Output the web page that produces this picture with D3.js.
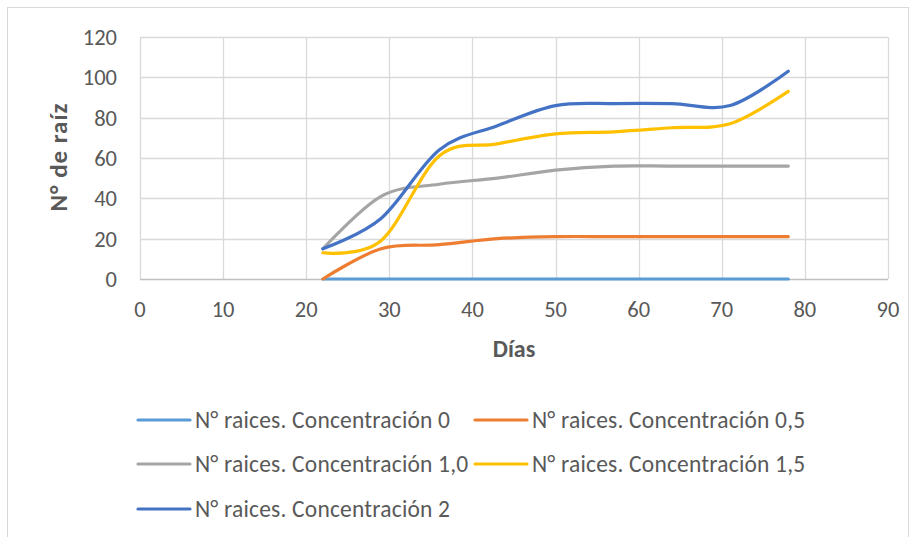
<!DOCTYPE html>
<html>
<head>
<meta charset="utf-8">
<script src="https://cdn.jsdelivr.net/npm/d3@7"></script>
<style>
  body { margin: 0; background: #fff; }
  svg text { font-family: Carlito, Calibri, Lato, sans-serif; fill: #595959; }
</style>
</head>
<body>
<div id="chart"></div>
<script>
// data
const dias = [22, 29, 36, 43, 50, 57, 64, 71, 78];
const conc0 = [0, 0, 0, 0, 0, 0, 0, 0, 0];
const conc05 = [0, 15, 17, 20, 21, 21, 21, 21, 21];
const conc10 = [15, 41, 47, 50, 54, 56, 56, 56, 56];
const conc15 = [13, 19, 61, 67, 72, 73, 75, 77, 93];
const conc2 = [15, 30, 64, 76, 86, 87, 87, 86, 103];
const seriesNames = [
  'N° raices. Concentración 0',
  'N° raices. Concentración 0,5',
  'N° raices. Concentración 1,0',
  'N° raices. Concentración 1,5',
  'N° raices. Concentración 2'
];
const seriesColors = ['#5B9BD5', '#ED7D31', '#A5A5A5', '#FFC000', '#4472C4'];
const xTicks = [0, 10, 20, 30, 40, 50, 60, 70, 80, 90];
const yTicks = [0, 20, 40, 60, 80, 100, 120];

const W = 917, H = 537;
const svg = d3.select('#chart').append('svg')
  .attr('width', W).attr('height', H);

// chart frame
svg.append('rect')
  .attr('x', 7.5).attr('y', 7.5)
  .attr('width', 901).attr('height', 540)
  .attr('fill', 'none').attr('stroke', '#D9D9D9');

const x = d3.scaleLinear().domain([0, 90]).range([140, 888]);
const y = d3.scaleLinear().domain([0, 120]).range([279, 37]);

const grid = svg.append('g');
grid.selectAll('.hg').data(yTicks.filter(d => d > 0)).enter().append('line')
  .attr('x1', x(0)).attr('x2', x(90))
  .attr('y1', d => Math.round(y(d)) + 0.5).attr('y2', d => Math.round(y(d)) + 0.5)
  .attr('stroke', '#D9D9D9').attr('stroke-width', 1.3);
grid.selectAll('.vg').data(xTicks).enter().append('line')
  .attr('y1', y(0)).attr('y2', y(120))
  .attr('x1', d => Math.round(x(d)) + 0.5).attr('x2', d => Math.round(x(d)) + 0.5)
  .attr('stroke', '#D9D9D9').attr('stroke-width', 1.3);
// bottom axis line
svg.append('line')
  .attr('x1', x(0)).attr('x2', x(90))
  .attr('y1', Math.round(y(0)) + 0.5).attr('y2', Math.round(y(0)) + 0.5)
  .attr('stroke', '#BFBFBF').attr('stroke-width', 1.3);

// tick labels
svg.selectAll('.yl').data(yTicks).enter().append('text')
  .attr('x', 117).attr('y', d => y(d))
  .attr('dy', '0.35em')
  .attr('text-anchor', 'end')
  .attr('font-size', 22.5)
  .text(d => d);
svg.selectAll('.xl').data(xTicks).enter().append('text')
  .attr('x', d => x(d)).attr('y', 309)
  .attr('dy', '0.35em')
  .attr('text-anchor', 'middle')
  .attr('font-size', 22.5)
  .text(d => d);

// axis titles
svg.append('text')
  .attr('transform', 'translate(58,157) rotate(-90)')
  .attr('text-anchor', 'middle').attr('dy', '0.35em')
  .attr('font-size', 25).attr('font-weight', 'bold')
  .attr('letter-spacing', 1)
  .text('N° de raíz');
svg.append('text')
  .attr('x', 514).attr('y', 349)
  .attr('text-anchor', 'middle').attr('dy', '0.35em')
  .attr('font-size', 24).attr('font-weight', 'bold')
  .text('Días');

// lines
const allSeries = [conc0, conc05, conc10, conc15, conc2];
const line = d3.line()
  .x((d, i) => x(dias[i]))
  .y(d => y(d))
  .curve(d3.curveCardinal.tension(0));

svg.append('g').selectAll('path').data(allSeries).enter().append('path')
  .attr('d', d => line(d))
  .attr('fill', 'none')
  .attr('stroke', (d, i) => seriesColors[i])
  .attr('stroke-width', 3.2)
  .attr('stroke-linecap', 'round');

// legend
const legendPos = [[138, 420], [475, 420], [138, 464], [475, 464], [138, 509]];
const leg = svg.append('g').selectAll('g').data(seriesNames).enter().append('g')
  .attr('transform', (d, i) => `translate(${legendPos[i][0]},${legendPos[i][1]})`);
leg.append('line')
  .attr('x1', 0).attr('x2', 52).attr('y1', 0).attr('y2', 0)
  .attr('stroke', (d, i) => seriesColors[i])
  .attr('stroke-width', 3.2).attr('stroke-linecap', 'round');
leg.append('text')
  .attr('x', 57).attr('y', 0).attr('dy', '0.35em')
  .attr('font-size', 23.5)
  .attr('letter-spacing', 0.2)
  .text(d => d);
</script>
</body>
</html>
